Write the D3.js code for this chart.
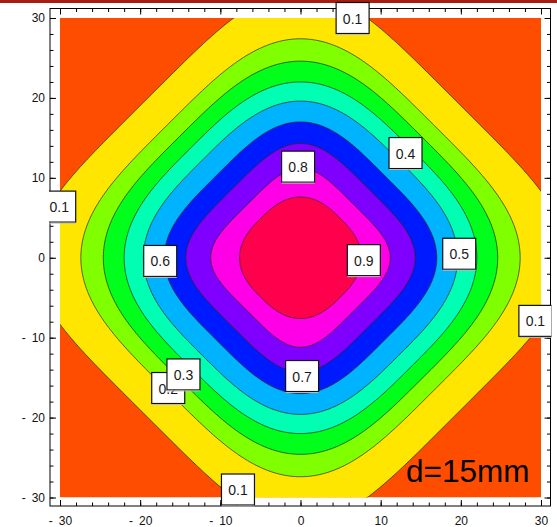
<!DOCTYPE html>
<html>
<head>
<meta charset="utf-8">
<script src="https://cdn.jsdelivr.net/npm/d3@7"></script>
<style>
  body { margin: 0; background: #fff; }
  svg { display: block; }
</style>
</head>
<body>
<svg id="chart" width="557" height="527"></svg>
<script>
// Contour levels, and how far each contour reaches from the centre
// along the x/y axes and along the diagonals (data units).
const levels    = [0.1, 0.2, 0.3, 0.4, 0.5, 0.6, 0.7, 0.8, 0.9];
const axisReach = [33.3, 27.4, 24.6, 22.0, 19.6, 17.0, 14.3, 11.2, 7.6];
const diagReach = [27.6, 23.5, 21.4, 19.4, 17.3, 14.7, 12.1, 9.4, 7.0];

// Band hues, from the region below 0.1 up to the region above 0.9.
const bandHues = [18, 54, 90, 126, 162, 198, 234, 270, 306, 342];

// Contour labels: level and where it sits (data units).
const labelLevel = [0.1, 0.4, 0.8, 0.1, 0.6, 0.9, 0.5, 0.1, 0.2, 0.3, 0.7, 0.1];
const labelX     = [6.5, 13.1, -0.3, -30.1, -17.5, 7.9, 19.8, 29.3, -16.5, -14.6, 0.2, -7.8];
const labelY     = [30.0, 13.1, 11.4, 6.4, -0.4, -0.3, 0.5, -7.9, -16.3, -14.6, -14.8, -29.0];

const xTicks = [-30, -20, -10, 0, 10, 20, 30];
const yTicks = [-30, -20, -10, 0, 10, 20, 30];
const minorTicks = d3.range(-30, 31, 2);
const caption = "d=15mm";

const svg = d3.select("#chart");

// top rule
svg.append("rect").attr("x", 0).attr("y", 0).attr("width", 557).attr("height", 3)
  .attr("fill", "#a61b12");

const x = d3.scaleLinear().domain([-30, 30]).range([60, 541]);
const y = d3.scaleLinear().domain([-30, 30]).range([497.5, 18]);

const frame = { left: 50, right: 550.5, top: 8.5, bottom: 506 };

const bandColor = h => d3.hsl(h, 1, 0.5).formatHex();

// clip for the filled contour area
const defs = svg.append("defs");
defs.append("clipPath").attr("id", "plotClip")
  .append("rect")
  .attr("x", x(-30)).attr("y", y(30))
  .attr("width", x(30) - x(-30)).attr("height", y(-30) - y(30));
defs.append("clipPath").attr("id", "labelClip")
  .append("rect")
  .attr("x", frame.left - 1).attr("y", -20)
  .attr("width", frame.right - frame.left + 2).attr("height", 570);

// Closed contour outline: a rounded diamond (superellipse in the
// diagonal frame) passing through the axis and diagonal reach points.
function contourRing(axisR, diagR) {
  const n = 1 / (0.5 - Math.log2(axisR / diagR));
  const pts = [];
  const N = 480;
  for (let k = 0; k < N; k++) {
    const t = 2 * Math.PI * k / N;
    const c = Math.cos(t), s = Math.sin(t);
    const u = diagR * Math.sign(c) * Math.pow(Math.abs(c), 2 / n);
    const v = diagR * Math.sign(s) * Math.pow(Math.abs(s), 2 / n);
    pts.push([(u - v) / Math.SQRT2, (u + v) / Math.SQRT2]);
  }
  return pts;
}

const line = d3.line()
  .x(d => x(d[0]))
  .y(d => y(d[1]))
  .curve(d3.curveLinearClosed);

const plot = svg.append("g").attr("clip-path", "url(#plotClip)");

plot.append("rect")
  .attr("x", x(-30)).attr("y", y(30))
  .attr("width", x(30) - x(-30)).attr("height", y(-30) - y(30))
  .attr("fill", bandColor(bandHues[0]));

plot.selectAll("path.band")
  .data(levels.map((lv, i) => ({ lv, ring: contourRing(axisReach[i], diagReach[i]), hue: bandHues[i + 1] })))
  .join("path")
  .attr("class", "band")
  .attr("d", d => line(d.ring))
  .attr("fill", d => bandColor(d.hue))
  .attr("stroke", "#2a2a1a")
  .attr("stroke-opacity", 0.8)
  .attr("stroke-width", 0.9);

// frame
svg.append("rect")
  .attr("x", frame.left).attr("y", frame.top)
  .attr("width", frame.right - frame.left).attr("height", frame.bottom - frame.top)
  .attr("fill", "none").attr("stroke", "#000").attr("stroke-width", 1);

const fmt = d => d < 0 ? "-\u2002" + (-d) : String(d);

function styleAxis(g) {
  g.select(".domain").remove();
  g.selectAll(".tick line").attr("stroke", "#000").attr("stroke-width", 1);
  g.selectAll(".tick text")
    .attr("fill", "#111")
    .style("font-family", "'Liberation Sans', Arial, sans-serif")
    .style("font-size", "12px");
}

// bottom
svg.append("g").attr("transform", `translate(0,${frame.bottom})`)
  .call(d3.axisBottom(x).tickValues(xTicks).tickFormat(fmt).tickSizeInner(-6).tickSizeOuter(0).tickPadding(10))
  .call(styleAxis);
svg.append("g").attr("transform", `translate(0,${frame.bottom})`)
  .call(d3.axisBottom(x).tickValues(minorTicks).tickFormat("").tickSizeInner(-3.5).tickSizeOuter(0))
  .call(styleAxis);
// left
svg.append("g").attr("transform", `translate(${frame.left},0)`)
  .call(d3.axisLeft(y).tickValues(yTicks).tickFormat(fmt).tickSizeInner(-6).tickSizeOuter(0).tickPadding(5))
  .call(styleAxis);
svg.append("g").attr("transform", `translate(${frame.left},0)`)
  .call(d3.axisLeft(y).tickValues(minorTicks).tickFormat("").tickSizeInner(-3.5).tickSizeOuter(0))
  .call(styleAxis);
// top
svg.append("g").attr("transform", `translate(0,${frame.top})`)
  .call(d3.axisTop(x).tickValues(xTicks).tickFormat("").tickSizeInner(-6).tickSizeOuter(0))
  .call(styleAxis);
svg.append("g").attr("transform", `translate(0,${frame.top})`)
  .call(d3.axisTop(x).tickValues(minorTicks).tickFormat("").tickSizeInner(-3.5).tickSizeOuter(0))
  .call(styleAxis);
// right
svg.append("g").attr("transform", `translate(${frame.right},0)`)
  .call(d3.axisRight(y).tickValues(yTicks).tickFormat("").tickSizeInner(-6).tickSizeOuter(0))
  .call(styleAxis);
svg.append("g").attr("transform", `translate(${frame.right},0)`)
  .call(d3.axisRight(y).tickValues(minorTicks).tickFormat("").tickSizeInner(-3.5).tickSizeOuter(0))
  .call(styleAxis);

// contour labels
const boxW = 33, boxH = 31;
const labels = svg.append("g").attr("clip-path", "url(#labelClip)")
  .selectAll("g.clabel")
  .data(labelLevel.map((lv, i) => ({ lv, cx: labelX[i], cy: labelY[i] })))
  .join("g")
  .attr("class", "clabel")
  .attr("transform", d => `translate(${x(d.cx)},${y(d.cy)})`);

labels.append("rect")
  .attr("x", -boxW / 2).attr("y", -boxH / 2)
  .attr("width", boxW).attr("height", boxH)
  .attr("fill", "#fff").attr("stroke", "#111").attr("stroke-width", 1.2);
labels.append("line")
  .attr("x1", -boxW / 2).attr("x2", boxW / 2)
  .attr("y1", boxH / 2 + 1).attr("y2", boxH / 2 + 1)
  .attr("stroke", "#bbb").attr("stroke-width", 1);
labels.append("text")
  .attr("text-anchor", "middle")
  .attr("dominant-baseline", "central")
  .attr("y", 0.5)
  .attr("fill", "#1a1a1a")
  .style("font-family", "'Liberation Sans', Arial, sans-serif")
  .style("font-size", "14px")
  .text(d => d.lv.toFixed(1));

// annotation
svg.append("text")
  .attr("x", 406).attr("y", 482)
  .attr("fill", "#000")
  .style("font-family", "'Liberation Sans', Arial, sans-serif")
  .style("font-size", "31.5px")
  .text(caption);
</script>
</body>
</html>
